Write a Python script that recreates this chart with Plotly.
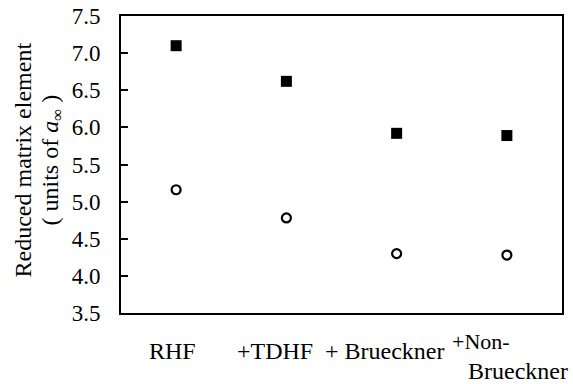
import plotly.graph_objects as go

categories = ["RHF", "+TDHF", "+ Brueckner", "+Non-Brueckner"]
squares = [7.10, 6.62, 5.92, 5.89]
circles = [5.16, 4.78, 4.30, 4.28]
yticks = [3.5, 4.0, 4.5, 5.0, 5.5, 6.0, 6.5, 7.0, 7.5]

FONT = "Liberation Serif, Times New Roman, serif"
FS = 24
TFS = 23

xs = list(range(len(categories)))

fig = go.Figure()
fig.add_trace(go.Scatter(
    x=xs, y=squares, mode="markers",
    marker=dict(symbol="square", size=11, color="black", line=dict(width=0)),
    showlegend=False))
fig.add_trace(go.Scatter(
    x=xs, y=circles, mode="markers",
    marker=dict(symbol="circle-open", size=9, color="black", line=dict(width=2.2)),
    showlegend=False))

fig.update_layout(
    width=573, height=384,
    margin=dict(l=121, r=11, t=16, b=71, autoexpand=False),
    paper_bgcolor="white", plot_bgcolor="white",
    font=dict(family=FONT, size=FS, color="black"),
)
fig.update_xaxes(
    range=[-0.5, 3.5], showticklabels=False, ticks="", showgrid=False,
    zeroline=False, showline=True, linewidth=2, linecolor="black", mirror=True,
    automargin=False,
)
fig.update_yaxes(
    range=[3.5, 7.5], tickvals=yticks, ticktext=[f"{v:.1f}" for v in yticks],
    ticks="inside", ticklen=7, tickwidth=2, tickcolor="black",
    showgrid=False, zeroline=False, showline=True, linewidth=2,
    linecolor="black", mirror=True, ticklabelstandoff=14, automargin=False,
    tickfont=dict(family=FONT, size=TFS, color="black"),
)

# category labels below axis
label_specs = [
    (0, categories[0], -4, -38),
    (1, categories[1], -11, -38),
    (2, categories[2], -12, -38),
]
for xi, txt, dx, dy in label_specs:
    fig.add_annotation(x=xi, y=0, xref="x", yref="paper", text=txt,
                       showarrow=False, xshift=dx, yshift=dy,
                       xanchor="center", yanchor="middle",
                       font=dict(family=FONT, size=FS, color="black"))
last_parts = categories[3].split("Non-")
fig.add_annotation(x=3, y=0, xref="x", yref="paper", text=last_parts[0] + "Non-",
                   showarrow=False, xshift=-26, yshift=-28,
                   xanchor="center", yanchor="middle",
                   font=dict(family=FONT, size=22, color="black"))
fig.add_annotation(x=3, y=0, xref="x", yref="paper", text=last_parts[1],
                   showarrow=False, xshift=11, yshift=-58,
                   xanchor="center", yanchor="middle",
                   font=dict(family=FONT, size=FS, color="black"))

# y-axis title (two lines)
fig.add_annotation(x=0, y=0.5, xref="paper", yref="paper",
                   text="Reduced matrix element", textangle=-90,
                   showarrow=False, xshift=-99, yshift=4,
                   xanchor="center", yanchor="middle",
                   font=dict(family=FONT, size=FS, color="black"))
fig.add_annotation(x=0, y=0.5, xref="paper", yref="paper",
                   text="( units of <i>a</i><sub>∞</sub> )", textangle=-90,
                   showarrow=False, xshift=-70, yshift=4,
                   xanchor="center", yanchor="middle",
                   font=dict(family=FONT, size=FS, color="black"))

fig.write_html("out.html")
